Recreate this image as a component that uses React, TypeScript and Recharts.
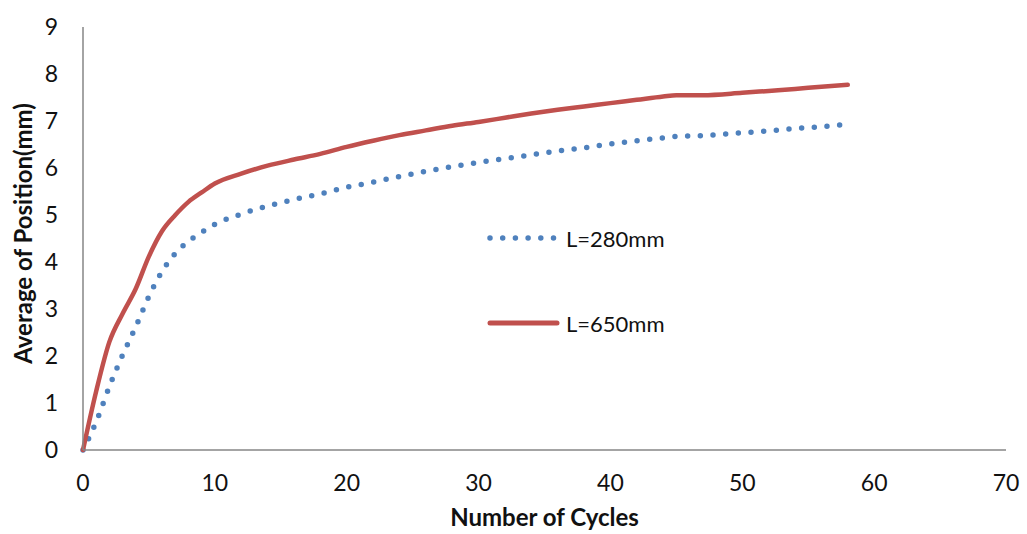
import { Label, Line, LineChart, XAxis, YAxis } from 'recharts';

// cycle counts sampled for both runs
const cycles = [0, 1, 2, 3, 4, 5, 6, 7, 8, 9, 10, 12, 14, 16, 18, 20, 22, 24, 26, 28, 30, 32, 34, 36, 38, 40, 42, 44, 45, 47, 50, 52, 54, 56, 58];

// average position (mm), L = 280 mm
const l280 = [0, 0.6, 1.35, 2.02, 2.62, 3.27, 3.8, 4.18, 4.44, 4.63, 4.8, 5.02, 5.19, 5.33, 5.45, 5.59, 5.7, 5.82, 5.93, 6.03, 6.12, 6.2, 6.28, 6.36, 6.43, 6.51, 6.58, 6.64, 6.67, 6.69, 6.75, 6.79, 6.84, 6.88, 6.93];

// average position (mm), L = 650 mm
const l650 = [0, 1.25, 2.3, 2.9, 3.43, 4.12, 4.66, 5.0, 5.28, 5.48, 5.67, 5.88, 6.05, 6.18, 6.3, 6.45, 6.58, 6.7, 6.8, 6.9, 6.98, 7.07, 7.16, 7.24, 7.31, 7.38, 7.45, 7.52, 7.55, 7.55, 7.6, 7.64, 7.68, 7.73, 7.77];

const xTicks = [0, 10, 20, 30, 40, 50, 60, 70];
const yTicks = [0, 1, 2, 3, 4, 5, 6, 7, 8, 9];

const BLUE = '#4F81BD';
const RED = '#C0504D';
const AXIS = '#868686';
const FONT = 'Lato, "Open Sans", sans-serif';

const rows = cycles.map((c, i) => ({ cycle: c, l280: l280[i], l650: l650[i] }));

// series key sits inside the plot, so it is drawn over the chart rather than through <Legend>
function SeriesKey() {
  return (
    <div style={{ position: 'absolute', left: 486, top: 223, fontFamily: FONT, fontSize: 22, color: '#111' }}>
      <div style={{ display: 'flex', alignItems: 'center', height: 30 }}>
        <svg width={80} height={12}>
          <line x1={4} y1={6} x2={70} y2={6} stroke={BLUE} strokeWidth={5.5} strokeLinecap="round" strokeDasharray="0 12.7" />
        </svg>
        <span>L=280mm</span>
      </div>
      <div style={{ display: 'flex', alignItems: 'center', height: 30, marginTop: 55 }}>
        <svg width={80} height={12}>
          <line x1={4} y1={6} x2={71} y2={6} stroke={RED} strokeWidth={5} strokeLinecap="round" />
        </svg>
        <span>L=650mm</span>
      </div>
    </div>
  );
}

export default function App() {
  return (
    <div style={{ position: 'absolute', left: 0, top: 0, width: 1027, height: 534, background: '#fff' }}>
      <LineChart width={1027} height={534} data={rows} margin={{ top: 27, right: 21, bottom: 0, left: 0 }}>
        <XAxis
          dataKey="cycle"
          type="number"
          domain={[0, 70]}
          ticks={xTicks}
          height={84}
          tickLine={false}
          tickMargin={19}
          stroke={AXIS}
          strokeWidth={1.5}
          tick={{ fill: '#111', fontSize: 23, fontFamily: FONT }}
        >
          <Label
            content={({ viewBox }: any) => (
              <text
                x={viewBox.x + viewBox.width / 2}
                y={viewBox.y + 76}
                textAnchor="middle"
                fontFamily={FONT}
                fontSize={24}
                fontWeight="bold"
                fill="#111"
              >
                Number of Cycles
              </text>
            )}
          />
        </XAxis>
        <YAxis
          type="number"
          domain={[0, 9]}
          ticks={yTicks}
          width={83}
          tickLine={false}
          tickMargin={19}
          stroke={AXIS}
          strokeWidth={1.5}
          tick={{ fill: '#111', fontSize: 23, fontFamily: FONT }}
        >
          <Label
            content={({ viewBox }: any) => {
              const cx = 22;
              const cy = viewBox.y + viewBox.height / 2 - 5;
              return (
                <text
                  x={cx}
                  y={cy}
                  transform={`rotate(-90 ${cx} ${cy})`}
                  textAnchor="middle"
                  dominantBaseline="central"
                  fontFamily={FONT}
                  fontSize={24}
                  fontWeight="bold"
                  fill="#111"
                >
                  Average of Position(mm)
                </text>
              );
            }}
          />
        </YAxis>
        <Line
          dataKey="l280"
          name="L=280mm"
          type="monotone"
          stroke={BLUE}
          strokeWidth={5.5}
          strokeLinecap="round"
          strokeDasharray="0 12.7"
          dot={false}
          isAnimationActive={false}
        />
        <Line
          dataKey="l650"
          name="L=650mm"
          type="monotone"
          stroke={RED}
          strokeWidth={4.5}
          strokeLinecap="round"
          dot={false}
          isAnimationActive={false}
        />
      </LineChart>
      <SeriesKey />
    </div>
  );
}
